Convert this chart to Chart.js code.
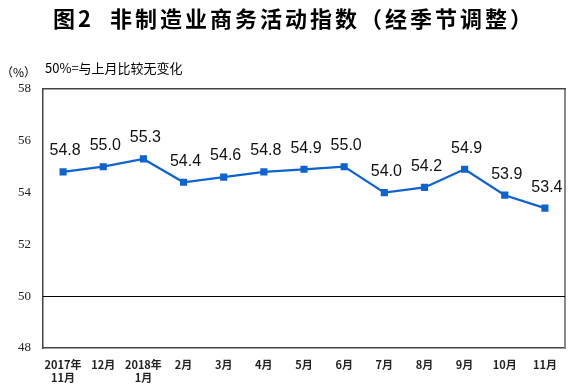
<!DOCTYPE html>
<html>
<head>
<meta charset="utf-8">
<script src="https://cdn.jsdelivr.net/npm/chart.js@4"></script>
<style>
  html, body { margin: 0; padding: 0; background: #fff; }
  #wrap { width: 580px; height: 392px; position: relative; }
</style>
</head>
<body>
<div id="wrap"><canvas id="indexChart" width="580" height="392"></canvas></div>
<script>
const months = [
    ['2017年', '11月'], '12月', ['2018年', '1月'], '2月', '3月', '4月',
    '5月', '6月', '7月', '8月', '9月', '10月', '11月'
];
const indexValues = [54.8, 55.0, 55.3, 54.4, 54.6, 54.8, 54.9, 55.0, 54.0, 54.2, 54.9, 53.9, 53.4];
const yTicks = [48, 50, 52, 54, 56, 58];

const cjk = '"Noto Sans CJK SC", "Noto Sans", sans-serif';

// title, unit notes, 50 line and value labels
const decorations = {
    id: 'decorations',
    afterDraw: function(chart) {
        const ctx = chart.ctx;
        const area = chart.chartArea;
        const y = chart.scales.y;
        ctx.save();

        // 50 reference line
        ctx.strokeStyle = '#000';
        ctx.lineWidth = 1;
        ctx.beginPath();
        ctx.moveTo(area.left, Math.round(y.getPixelForValue(50)) + 0.5);
        ctx.lineTo(area.right, Math.round(y.getPixelForValue(50)) + 0.5);
        ctx.stroke();

        ctx.fillStyle = '#000';
        ctx.textAlign = 'center';
        ctx.textBaseline = 'middle';
        ctx.font = 'bold 22px ' + cjk;
        ctx.letterSpacing = '3px';
        ctx.fillText('图2  非制造业商务活动指数（经季节调整）', 294, 19);
        ctx.letterSpacing = '0px';

        ctx.font = '12px ' + cjk;
        ctx.textAlign = 'left';
        ctx.fillText('（%）', 1, 72);
        ctx.font = '13px ' + cjk;
        ctx.fillText('50%=与上月比较无变化', 45, 68);

        // value labels
        const meta = chart.getDatasetMeta(0);
        ctx.font = '16px "Liberation Sans", Arial, sans-serif';
        ctx.textAlign = 'center';
        ctx.fillStyle = '#111';
        meta.data.forEach(function(pt, i) {
            ctx.fillText(indexValues[i].toFixed(1), pt.x + 2, pt.y - 21);
        });
        ctx.restore();
    }
};

new Chart(document.getElementById('indexChart').getContext('2d'), {
    type: 'line',
    data: {
        labels: months,
        datasets: [{
            data: indexValues,
            borderColor: '#0f63d1',
            backgroundColor: '#0f63d1',
            borderWidth: 2.2,
            pointStyle: 'rect',
            pointRadius: 3.5,
            pointHoverRadius: 3.5,
            tension: 0
        }]
    },
    options: {
        responsive: false,
        animation: false,
        layout: { padding: { left: 0, top: 89, right: 15, bottom: 0 } },
        plugins: {
            legend: { display: false },
            tooltip: { enabled: false }
        },
        scales: {
            x: {
                offset: true,
                grid: { display: false, drawTicks: false },
                border: { display: true, color: '#444', width: 1.5 },
                ticks: {
                    color: '#222',
                    padding: 10,
                    maxRotation: 0,
                    autoSkip: false,
                    font: { family: cjk, size: 11, weight: 'bold' }
                },
                afterFit: function(s) { s.height = 392 - 348; }
            },
            y: {
                min: 48,
                max: 58,
                afterBuildTicks: function(s) {
                    s.ticks = yTicks.map(function(v) { return { value: v }; });
                },
                grid: { display: false, drawTicks: false },
                border: { display: true, color: '#444', width: 1.5 },
                ticks: {
                    color: '#222',
                    padding: 12,
                    font: { family: '"Liberation Serif", "Times New Roman", serif', size: 13 }
                },
                afterFit: function(s) { s.width = 43; }
            },
            y2: {
                position: 'right',
                min: 48, max: 58,
                grid: { display: false, drawTicks: false },
                border: { display: true, color: '#888', width: 2 },
                ticks: { display: false },
                afterFit: function(s) { s.width = 0; }
            },
            x2: {
                position: 'top',
                grid: { display: false, drawTicks: false },
                border: { display: true, color: '#444', width: 1.5 },
                ticks: { display: false },
                afterFit: function(s) { s.height = 0; }
            }
        }
    },
    plugins: [decorations]
});
</script>
</body>
</html>
